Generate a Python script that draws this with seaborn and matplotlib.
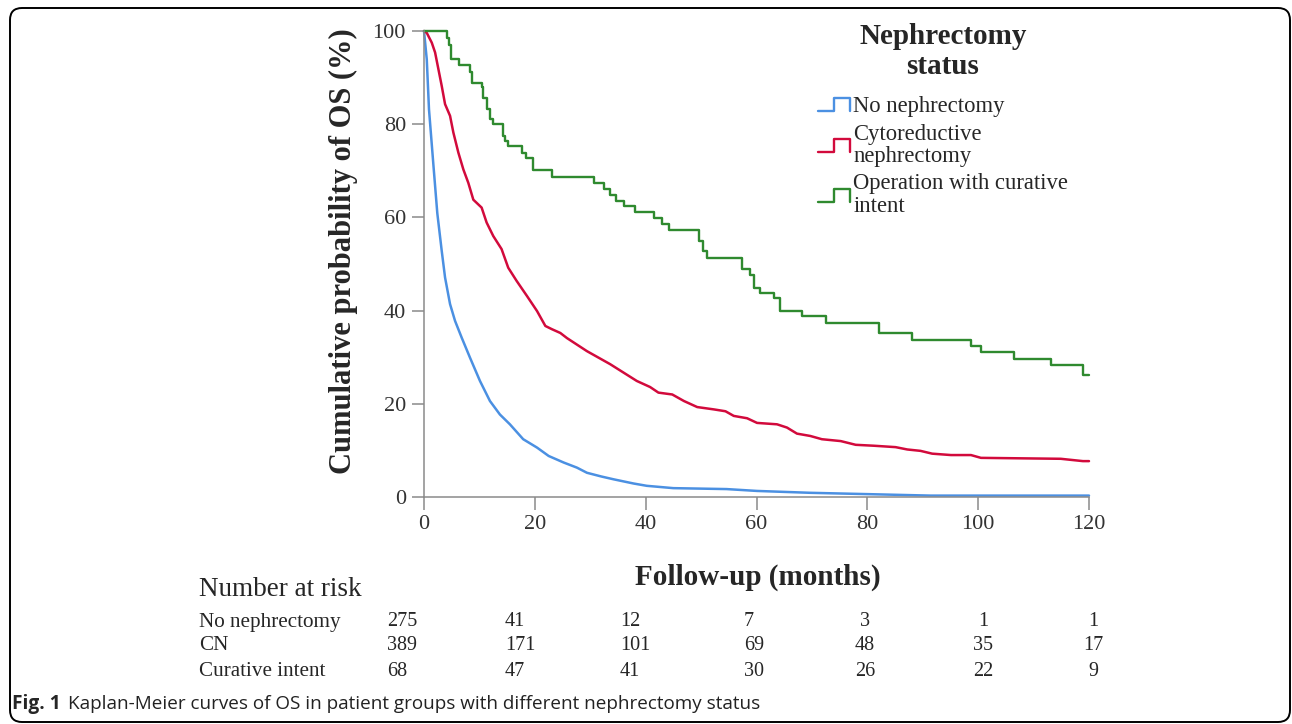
import matplotlib
matplotlib.use('Agg')
import matplotlib.pyplot as plt
from matplotlib.lines import Line2D
from matplotlib.legend_handler import HandlerBase
from matplotlib.patches import FancyBboxPatch
from matplotlib.transforms import IdentityTransform
import pandas as pd
import seaborn as sns

# Kaplan-Meier readings: months, OS (%)
no_neph_t = [0, 0.5, 0.9, 1.7, 2.4, 3.2, 3.8, 4.7, 5.6, 6.8, 8.3, 10.1, 11.9, 13.7,
             15.5, 17.9, 20.4, 22.5, 25.2, 27.6, 29.4, 32.0, 34.2, 37.8, 40.2, 45.0,
             54.6, 60.1, 69.7, 80.6, 91.4, 120]
no_neph_s = [100, 93.9, 83.2, 71.2, 60.9, 52.8, 47.1, 41.4, 37.8, 34.2, 29.9, 24.9, 20.6, 17.7,
             15.6, 12.4, 10.6, 8.8, 7.4, 6.3, 5.2, 4.4, 3.8, 2.9, 2.4, 1.9,
             1.7, 1.3, 0.9, 0.6, 0.3, 0.3]

cn_t = [0, 0.5, 1.4, 2.0, 2.6, 3.2, 3.8, 4.7, 5.3, 6.2, 7.1, 8.0, 8.9, 10.4, 11.3, 12.5,
        14.0, 15.2, 16.7, 18.6, 20.4, 21.9, 23.1, 24.6, 25.8, 27.6, 29.4, 31.8, 33.6,
        36.0, 38.4, 40.8, 42.3, 44.8, 46.9, 49.3, 52.3, 54.4, 55.9, 58.3, 60.1, 63.7,
        65.5, 67.3, 69.7, 71.8, 75.2, 77.9, 81.2, 85.1, 87.2, 89.6, 91.7, 95.1, 98.7,
        100.5, 114.9, 118.9, 120]
cn_s = [100, 99.6, 97.5, 95.4, 91.8, 88.2, 84.3, 81.8, 78.2, 73.9, 70.3, 67.4, 63.8, 62.1,
        58.9, 56.0, 53.2, 49.2, 46.4, 43.1, 39.9, 36.7, 36.0, 35.2, 34.1, 32.7, 31.3, 29.7,
        28.5, 26.7, 24.9, 23.6, 22.4, 22.0, 20.6, 19.3, 18.8, 18.4, 17.4, 16.9, 15.9, 15.6,
        14.9, 13.6, 13.1, 12.4, 12.0, 11.2, 11.0, 10.7, 10.2, 9.9, 9.3, 9.0, 9.0,
        8.4, 8.2, 7.7, 7.7]

cur_t = [0, 4.1, 4.5, 4.8, 6.4, 8.3, 8.6, 10.4, 10.7, 11.3, 11.9, 12.4, 14.3, 14.6, 15.1,
         17.6, 18.4, 19.6, 23.1, 30.7, 32.4, 33.5, 34.7, 36.1, 38.0, 41.5, 43.0, 44.2,
         49.6, 50.3, 51.1, 57.4, 58.9, 59.5, 60.7, 63.1, 64.3, 68.3, 72.5, 82.1, 88.1,
         98.7, 100.5, 106.5, 113.1, 118.9, 120]
cur_s = [100, 98.5, 97.0, 93.9, 92.6, 91.2, 88.9, 87.9, 85.7, 83.2, 81.1, 80.0, 77.5, 76.5,
         75.3, 73.9, 72.8, 70.2, 68.7, 67.4, 66.2, 64.9, 63.5, 62.4, 61.2, 59.9, 58.5, 57.4,
         55.0, 52.8, 51.3, 49.0, 47.7, 44.9, 43.8, 42.8, 40.0, 38.9, 37.4, 35.2, 33.6,
         32.4, 31.2, 29.7, 28.3, 26.2, 26.2]

group_labels = ['No nephrectomy', 'Cytoreductive\nnephrectomy', 'Operation with curative\nintent']
group_colors = ['#4b90e2', '#d20a3c', '#2f8a2f']

x_ticks = [0, 20, 40, 60, 80, 100, 120]
y_ticks = [0, 20, 40, 60, 80, 100]

risk_rows = ['No nephrectomy', 'CN', 'Curative intent']
risk_no_neph = [275, 41, 12, 7, 3, 1, 1]
risk_cn = [389, 171, 101, 69, 48, 35, 17]
risk_cur = [68, 47, 41, 30, 26, 22, 9]


class StepHandler(HandlerBase):
    # legend icon drawn as a small step
    def create_artists(self, legend, orig_handle, xdescent, ydescent,
                       width, height, fontsize, trans):
        x0, y0 = -xdescent, -ydescent
        xs = [x0, x0 + 0.5 * width, x0 + 0.5 * width, x0 + width, x0 + width]
        ys = [y0 + 0.1 * height, y0 + 0.1 * height, y0 + 0.9 * height,
              y0 + 0.9 * height, y0 + 0.1 * height]
        ln = Line2D(xs, ys, color=orig_handle.get_color(), lw=orig_handle.get_linewidth())
        ln.set_transform(trans)
        return [ln]


sns.set_theme(style='white')
plt.rcParams['font.family'] = ['Liberation Serif', 'DejaVu Serif']

W, H = 1292, 724
fig = plt.figure(figsize=(W / 100, H / 100), dpi=100)
ax = fig.add_axes([424 / W, 1 - 497 / H, 665 / W, 466 / H])

smooth = pd.concat([
    pd.DataFrame({'month': no_neph_t, 'os': no_neph_s, 'group': 'none'}),
    pd.DataFrame({'month': cn_t, 'os': cn_s, 'group': 'cn'}),
])
sns.lineplot(data=smooth, x='month', y='os', hue='group',
             palette={'none': group_colors[0], 'cn': group_colors[1]},
             estimator=None, sort=False, linewidth=1.8, legend=False,
             clip_on=False, ax=ax)
cur = pd.DataFrame({'month': cur_t, 'os': cur_s})
sns.lineplot(data=cur, x='month', y='os', color=group_colors[2], drawstyle='steps-post',
             estimator=None, sort=False, linewidth=1.7, legend=False, clip_on=False, ax=ax)

ax.set_xlim(0, 120)
ax.set_ylim(0, 100)
ax.set_xticks(x_ticks)
ax.set_yticks(y_ticks)
sns.despine(ax=ax)
for side in ['left', 'bottom']:
    ax.spines[side].set_color('#8a8a8a')
    ax.spines[side].set_linewidth(1.1)
ax.tick_params(axis='both', direction='out', length=9, width=1.1, color='#8a8a8a',
               labelsize=16, labelcolor='#333333', pad=4, left=True, bottom=True)

ax.set_xlabel('Follow-up (months)', fontsize=21, fontweight='bold')
ax.set_ylabel('Cumulative probability of OS (%)', fontsize=22, fontweight='bold')
ax.xaxis.set_label_coords(0.502, -0.143)
ax.yaxis.set_label_coords(-0.100, 0.528)

handles = [Line2D([], [], color=c, lw=1.7) for c in group_colors]
leg = fig.legend(handles, group_labels, loc='upper left', bbox_to_anchor=(818 / W, 1 - 23 / H),
                 frameon=False, fontsize=16.3, handlelength=1.4, handletextpad=0.15,
                 labelspacing=0.28, borderpad=0, borderaxespad=0,
                 title='Nephrectomy\nstatus', alignment='center',
                 title_fontproperties={'weight': 'bold', 'size': 21},
                 handler_map={Line2D: StepHandler()})
leg._legend_box.sep = 12
for t in leg.get_texts():
    t.set_linespacing(1.1)
leg.get_title().set_multialignment('center')
leg.get_title().set_linespacing(1.12)

# number at risk table
fig.text(199 / W, 1 - 590 / H, 'Number at risk', fontsize=19.5, va='center', ha='left')
col_x = [387, 505, 620, 744, 865, 983, 1093]
col_ha = ['left', 'left', 'left', 'left', 'center', 'center', 'center']
row_y = [622, 646, 671]
for name, counts, ry in zip(risk_rows, [risk_no_neph, risk_cn, risk_cur], row_y):
    fig.text(199 / W, 1 - ry / H, name, fontsize=15.2, va='center', ha='left')
    for v, cx, ha in zip(counts, col_x, col_ha):
        fig.text(cx / W, 1 - ry / H, str(v), fontsize=14.5, va='center', ha=ha)

# caption
fig.text(12 / W, 1 - 704 / H, 'Fig. 1', fontsize=13.8, fontweight='bold',
         family=['Open Sans', 'DejaVu Sans'], va='center', ha='left')
fig.text(68 / W, 1 - 704 / H,
         'Kaplan-Meier curves of OS in patient groups with different nephrectomy status',
         fontsize=13.6, family=['Open Sans', 'DejaVu Sans'], va='center', ha='left',
         color='#222222')

frame = FancyBboxPatch((10, 2), 1280, 714, boxstyle='round,pad=0,rounding_size=12',
                       transform=IdentityTransform(), fill=False, lw=1.4, ec='black')
fig.add_artist(frame)

fig.savefig('out.png', dpi=100)
